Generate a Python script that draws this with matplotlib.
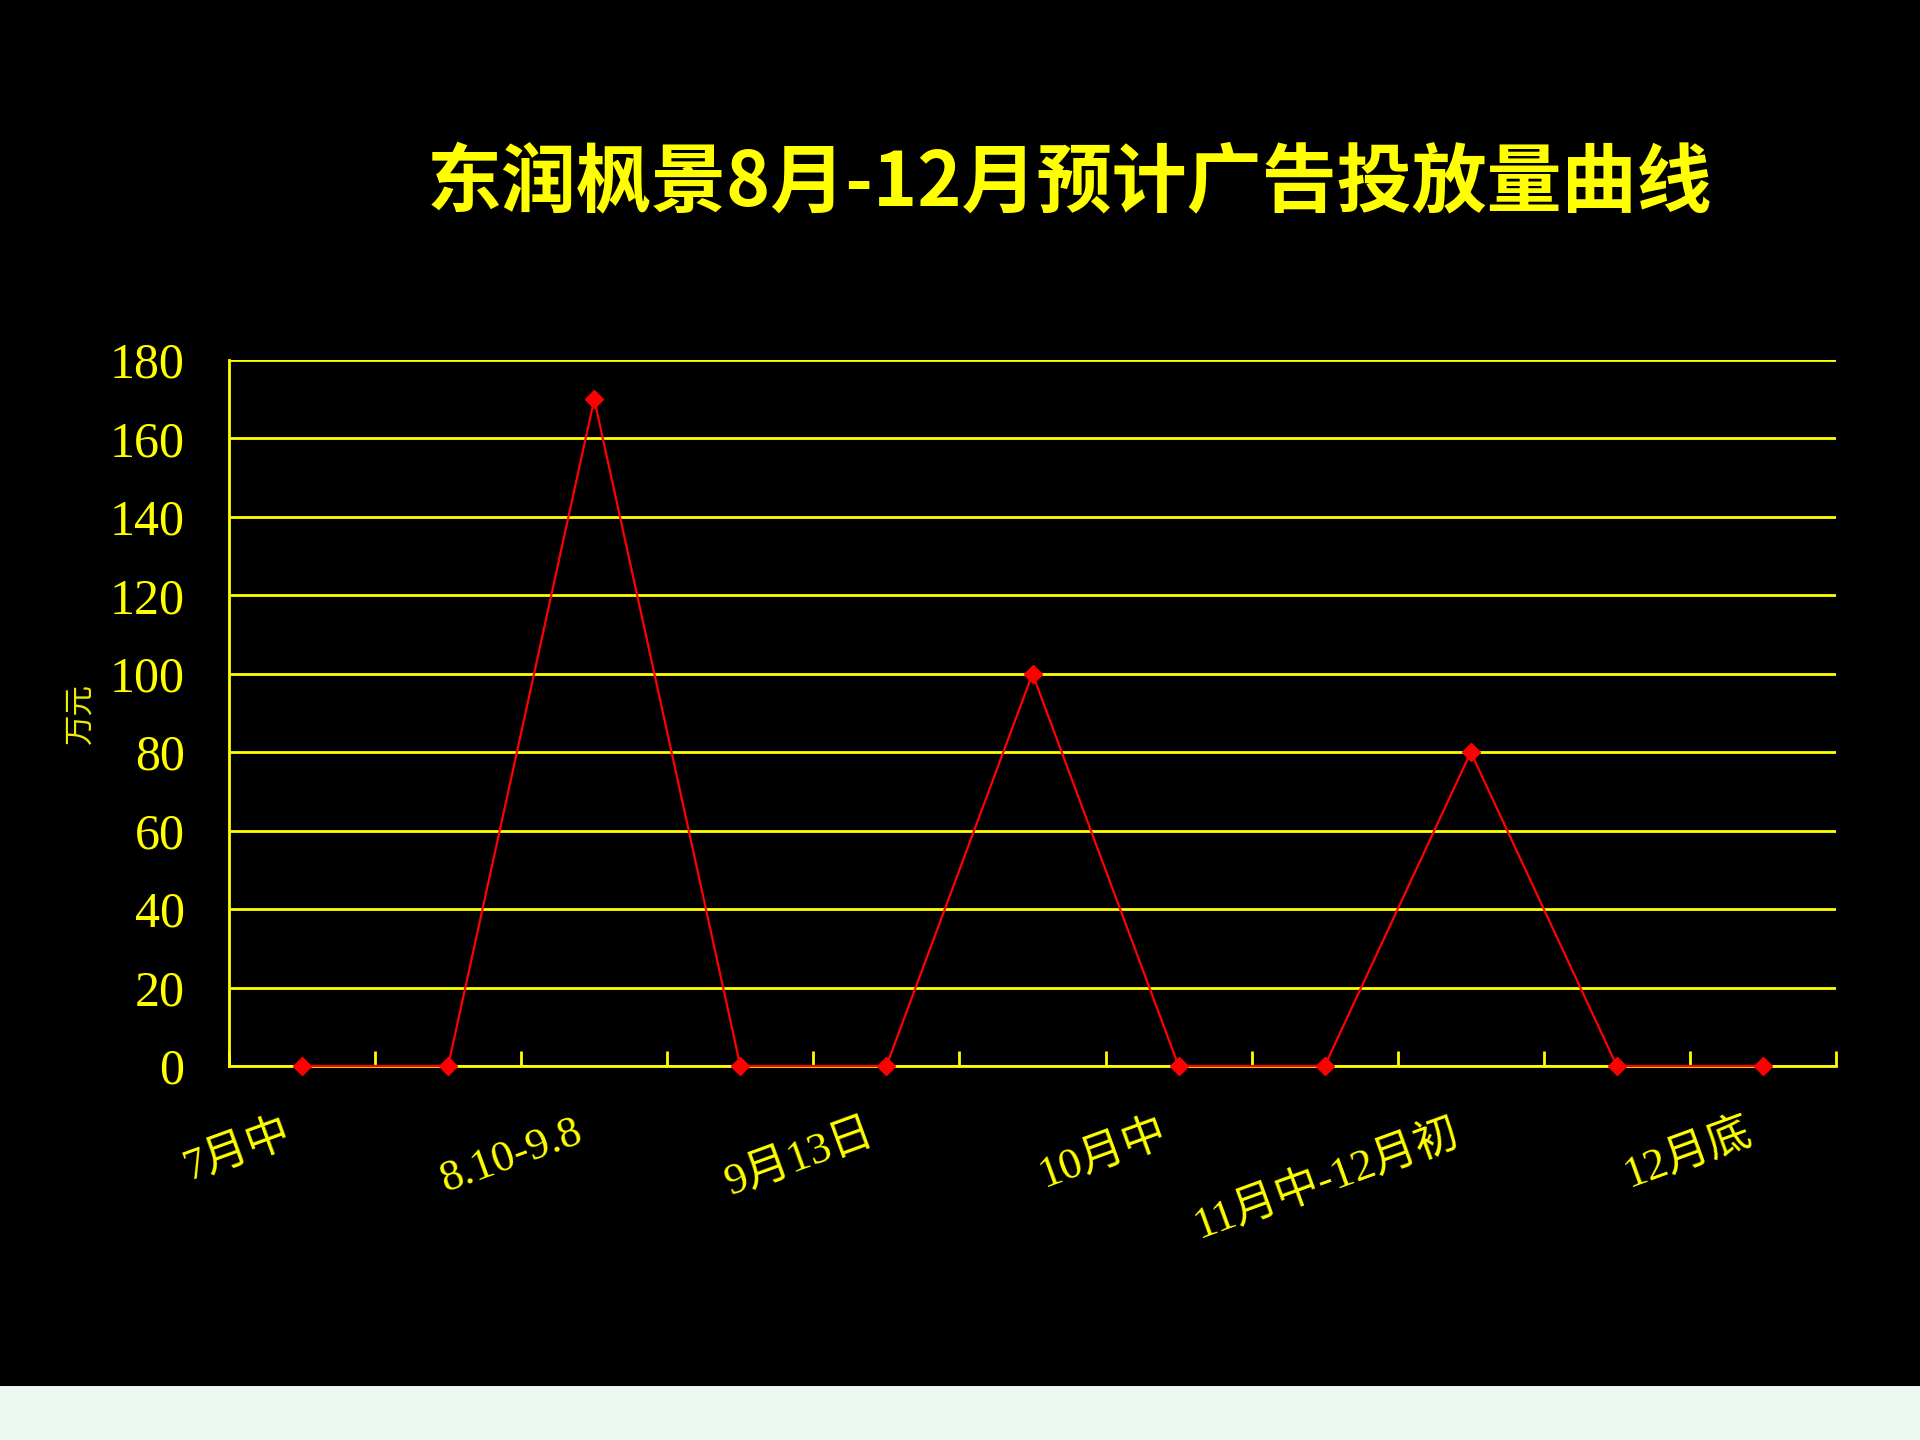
import matplotlib.pyplot as plt
from matplotlib.patches import Rectangle
from matplotlib.transforms import ScaledTranslation

# data (万元)
categories = ['7月中', '', '8.10-9.8', '', '9月13日', '', '10月中', '',
              '11月中-12月初', '', '12月底']
spend = [0, 0, 170, 0, 0, 100, 0, 0, 80, 0, 0]
y_ticks = [0, 20, 40, 60, 80, 100, 120, 140, 160, 180]

YELLOW = '#FFFF00'
RED = '#FF0000'
cjk = ['Noto Sans CJK SC', 'DejaVu Sans']
serif = ['Liberation Serif', 'Noto Sans CJK SC']

fig = plt.figure(figsize=(19.2, 14.4), dpi=100, facecolor='black')
# light strip along the bottom of the slide
fig.patches.append(Rectangle((0, 0), 1, 54 / 1440, transform=fig.transFigure,
                             facecolor='#EEF8F2', edgecolor='none'))

ax = fig.add_axes([229 / 1920, 374 / 1440, 1607 / 1920, 706 / 1440])
ax.set_facecolor('black')

x = list(range(len(spend)))
ax.plot(x, spend, color=RED, lw=1.6, marker='D', markersize=9,
        markeredgecolor=RED, markerfacecolor=RED, zorder=4, clip_on=False)

ax.set_xlim(-0.5, len(spend) - 0.5)
ax.set_ylim(0, 180)
ax.set_yticks(y_ticks)
ax.set_yticklabels([str(v) for v in y_ticks], family=serif, fontsize=36,
                   color=YELLOW)
ax.tick_params(axis='y', length=0, pad=32)
ax.yaxis.grid(True, color=YELLOW, lw=2.0)
ax.set_axisbelow(True)

# category labels only on every other point, like the original
shown = [i for i, c in enumerate(categories) if c]
ax.set_xticks(shown)
ax.set_xticklabels([categories[i] for i in shown], family=serif, fontsize=32,
                   color=YELLOW, rotation=20, ha='right', va='center',
                   rotation_mode='anchor')
ax.tick_params(axis='x', which='major', length=0, pad=47)
shift = ScaledTranslation(-0.13, 0, fig.dpi_scale_trans)
for lab in ax.get_xticklabels():
    lab.set_transform(lab.get_transform() + shift)
ax.set_xticks([i - 0.5 for i in range(len(spend) + 1)], minor=True)
ax.tick_params(axis='x', which='minor', direction='in', length=11,
               width=2.0, color=YELLOW)

for side in ['top', 'right']:
    ax.spines[side].set_visible(False)
for side in ['left', 'bottom']:
    ax.spines[side].set_color(YELLOW)
    ax.spines[side].set_linewidth(2.0)

ax.set_ylabel('万元', family=cjk, fontsize=22, color='#EEEE00')
ax.yaxis.set_label_coords(-0.083, 0.5)

fig.text(1069 / 1920, 1 - 184 / 1440, '东润枫景8月-12月预计广告投放量曲线',
         family=cjk, fontsize=54, fontweight='bold', color=YELLOW,
         ha='center', va='center')

fig.savefig('out.png', dpi=100, facecolor='black')
